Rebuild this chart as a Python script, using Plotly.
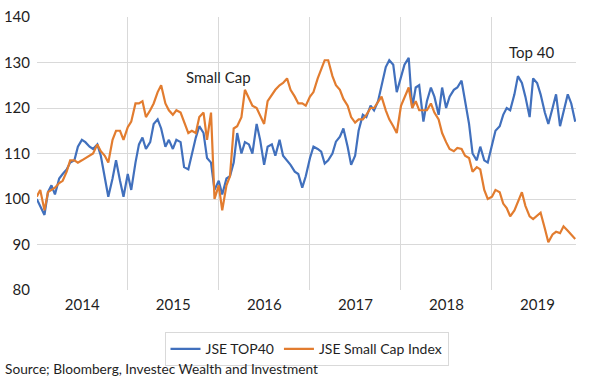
import plotly.graph_objects as go
import pandas as pd

# Semi-monthly observation dates (1st and 15th), Jan 2014 - Dec 2019
dates = pd.date_range("2014-01-01", "2019-12-01", freq="SMS")

top40 = [
    # 2014
    100, 98.5, 96.5, 101.5, 103, 101, 104.5, 105.5, 106.5, 108, 108.5, 111.5,
    113, 112.5, 111.5, 111, 112, 109.5, 105, 100.5, 104.5, 108.5, 104, 100.5,
    # 2015
    105.5, 102, 108, 112, 113.5, 111, 112.5, 116.5, 117.5, 115.5, 111.5, 113,
    111, 113, 112.5, 107, 106.5, 110, 113.5, 116, 114.5, 109, 108, 102,
    # 2016
    104, 101, 104.5, 105, 108, 114.5, 110, 112.5, 112, 110, 116.5, 113,
    107.5, 111.5, 112, 109.5, 113, 109.5, 108.5, 107.5, 106, 105.5, 102.5, 105,
    # 2017
    109, 111.5, 111, 110.4, 107.8, 108.5, 110, 112.6, 113.7, 115.5, 111.5, 107.5,
    109.5, 115, 118.5, 118, 120.5, 119.5, 121.5, 125, 129, 130.5, 129.5, 123.5,
    # 2018
    127, 129.5, 131, 120, 124.5, 125, 117, 121.5, 124.5, 122.5, 118.5, 124.5,
    120, 122.5, 124, 124.5, 126, 121.5, 116.5, 110, 108.5, 111.5, 108.5, 108,
    # 2019
    112, 115, 116, 118.5, 120, 119.5, 123, 127, 125.5, 122.5, 118, 126.5,
    125.5, 123, 119, 116.5, 120, 123, 116, 119, 123, 121, 117,
]

small_cap = [
    # 2014
    100.5, 102, 97.5, 101.5, 102, 102.5, 103.5, 104, 106, 108.5, 108.5, 108,
    108.5, 109, 109.5, 110, 112, 110.5, 109.5, 108, 113, 115, 115, 113,
    # 2015
    115.8, 117, 121, 121, 121.5, 118, 119.5, 121, 123.5, 125, 121, 119.5,
    118.5, 119.5, 119, 117, 114.5, 115, 114.5, 118, 119, 113, 119, 100,
    # 2016
    103, 97.5, 103, 105, 115.5, 116, 118, 124, 122, 120.5, 120, 118.5,
    116.5, 121.5, 123, 124, 125, 125.5, 126.5, 124, 122.5, 121, 121, 120.5,
    # 2017
    122.5, 123.5, 126.5, 128.5, 130.5, 130.5, 127, 125, 124, 122, 120.5, 118,
    116.8, 117.5, 117.5, 118.5, 120, 120, 121.5, 122.5, 119.5, 117.5, 116, 114.5,
    # 2018
    120.5, 122.5, 124.5, 120, 121.5, 119.5, 119.5, 119.5, 121, 119, 117.5, 114.5,
    112.5, 111, 110.5, 111.2, 111, 109.5, 109, 106, 107, 106.5, 102, 100,
    # 2019
    100.5, 102, 101.5, 99, 98, 96.2, 97.5, 99.5, 101.5, 98.5, 96.2, 95.6,
    96.3, 97, 93.5, 90.5, 92.2, 92.8, 92.5, 94, 93, 92.2, 91.2,
]

series_names = ["JSE TOP40", "JSE Small Cap Index"]
series_colors = ["#4170BD", "#E27C2F"]

FONT = "Lato"
TXT = "#1f1f1f"
GRID = "#d9d9d9"

fig = go.Figure()
for name, vals, col in zip(series_names, [top40, small_cap], series_colors):
    fig.add_trace(go.Scatter(
        x=dates, y=vals, mode="lines", name=name,
        line=dict(color=col, width=2.2),
    ))

fig.update_layout(
    width=591, height=392,
    margin=dict(l=37, r=15, t=17, b=102, autoexpand=False),
    paper_bgcolor="white", plot_bgcolor="white",
    font=dict(family=FONT, size=14, color=TXT),
    showlegend=True,
    legend=dict(
        orientation="h", x=0.5, xanchor="center", y=-0.155, yanchor="top",
        bordercolor=GRID, borderwidth=1, font=dict(size=14, color=TXT),
        itemwidth=30,
    ),
    annotations=[
        dict(x="2016-01-01", y=126.9, xref="x", yref="y", text="Small Cap",
             showarrow=False, font=dict(size=15, color=TXT)),
        dict(x="2019-06-10", y=132.4, xref="x", yref="y", text="Top 40",
             showarrow=False, font=dict(size=15, color=TXT)),
        dict(x=-0.063, y=-0.289, xref="paper", yref="paper", xanchor="left",
             yanchor="middle", showarrow=False,
             text="Source; Bloomberg, Investec Wealth and Investment",
             font=dict(size=13.7, color=TXT)),
    ],
)

fig.update_xaxes(
    type="date", range=["2014-01-02", "2019-12-04"], automargin=False,
    tick0="2014-01-01", dtick="M12", tickformat="%Y", ticklabelmode="period",
    showgrid=True, gridcolor=GRID, gridwidth=1, showline=False, zeroline=False,
    ticks="", tickfont=dict(size=15, color=TXT), ticklabelstandoff=4,
)
fig.update_yaxes(
    range=[80, 140], dtick=10, tick0=80, automargin=False,
    showgrid=True, gridcolor=GRID, gridwidth=1, showline=False, zeroline=False,
    ticks="", tickfont=dict(size=15, color=TXT), ticklabelstandoff=6,
)

fig.write_html(
    "out.html",
    config={"displayModeBar": False},
    post_script="document.body.style.margin='0';document.body.style.padding='0';",
)
